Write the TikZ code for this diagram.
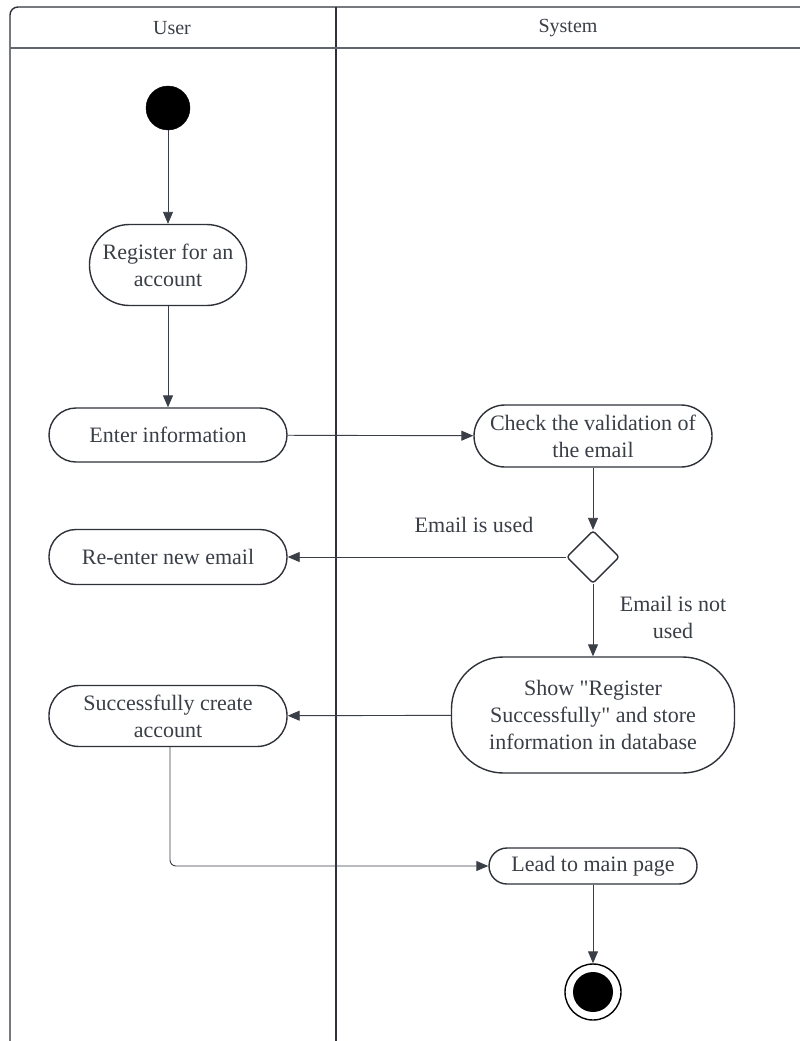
\documentclass[tikz,border=0pt]{standalone}
\usepackage{fontspec}
\setmainfont{Liberation Serif}
\usetikzlibrary{arrows.meta,shapes.geometric}
\definecolor{ink}{HTML}{3A3F47}
\definecolor{frame}{HTML}{2E3238}
\tikzset{
  every node/.style={text=ink,font=\fontsize{22}{27}\selectfont},
  act/.style={draw=frame,line width=1.4pt,fill=white,rectangle,align=center,inner sep=0pt},
  flow/.style={draw=ink,line width=0.9pt,-{Triangle[length=12pt,width=10pt]}},
  lane/.style={draw=frame,line width=1.4pt},
  lbl/.style={align=center,inner sep=0pt}
}
\begin{document}
\begin{tikzpicture}[x=1pt,y=-1pt]
\useasboundingbox (0,0) rectangle (800,1041);
\fill[white] (0,0) rectangle (800,1041);
% swimlane frame
\draw[lane] (10,1041) -- (10,15) [rounded corners=8pt] -- (10,7) -- (800,7);
\draw[lane] (336,7) -- (336,1041);
\draw[draw=ink!80,line width=2pt] (10,48) -- (800,48);
\node[lbl,font=\fontsize{20}{24}\selectfont] (hUser) at (172,28) {User};
\node[lbl,font=\fontsize{20}{24}\selectfont] (hSys) at (568,28) {System};
% activity nodes
\node[circle,fill=black,draw=black,minimum size=44pt,inner sep=0pt] (start) at (168,108) {};
\node[act,minimum width=157pt,minimum height=81pt,rounded corners=40pt] (reg) at (168,265) {Register for an\\account};
\node[act,minimum width=238pt,minimum height=54pt,rounded corners=27pt] (enter) at (168,435) {Enter information};
\node[act,minimum width=238pt,minimum height=62pt,rounded corners=31pt] (check) at (593,436) {Check the validation of\\the email};
\node[diamond,draw=frame,line width=1.4pt,minimum width=53pt,minimum height=53pt,inner sep=0pt,rounded corners=3pt] (dec) at (593,557) {};
\node[act,minimum width=238pt,minimum height=55pt,rounded corners=27pt] (reent) at (168,557) {Re-enter new email};
\node[act,minimum width=283pt,minimum height=116pt,rounded corners=52pt] (show) at (593,715) {Show \textquotedbl Register\\Successfully\textquotedbl{} and store\\information in database};
\node[act,minimum width=238pt,minimum height=61pt,rounded corners=30pt] (succ) at (168,716) {Successfully create\\account};
\node[act,minimum width=208pt,minimum height=36pt,rounded corners=18pt] (lead) at (593,866) {Lead to main page};
\node[circle,draw=black,line width=1.4pt,fill=white,minimum size=56pt,inner sep=0pt] (end) at (593,992) {};
\node[circle,fill=black,minimum size=40pt,inner sep=0pt] (endin) at (593,992) {};
% connectors
\draw[flow] (start) -- (reg);
\draw[flow] (reg) -- (enter);
\draw[flow] (enter) -- (check);
\draw[flow] (check) -- (dec);
\draw[flow] (dec.west) -- (reent.east);
\draw[flow] (dec.south) -- (show.north);
\draw[flow] (show) -- (succ);
\coordinate (bend) at (170,866);
\draw[flow,rounded corners=6pt] (succ.south -| bend) -- (bend) -- (lead.west);
\draw[flow] (lead) -- (end);
% guard labels
\node[lbl] (gUsed) at (474,525) {Email is used};
\node[lbl] (gNot) at (673,617) {Email is not\\used};
\end{tikzpicture}
\end{document}
